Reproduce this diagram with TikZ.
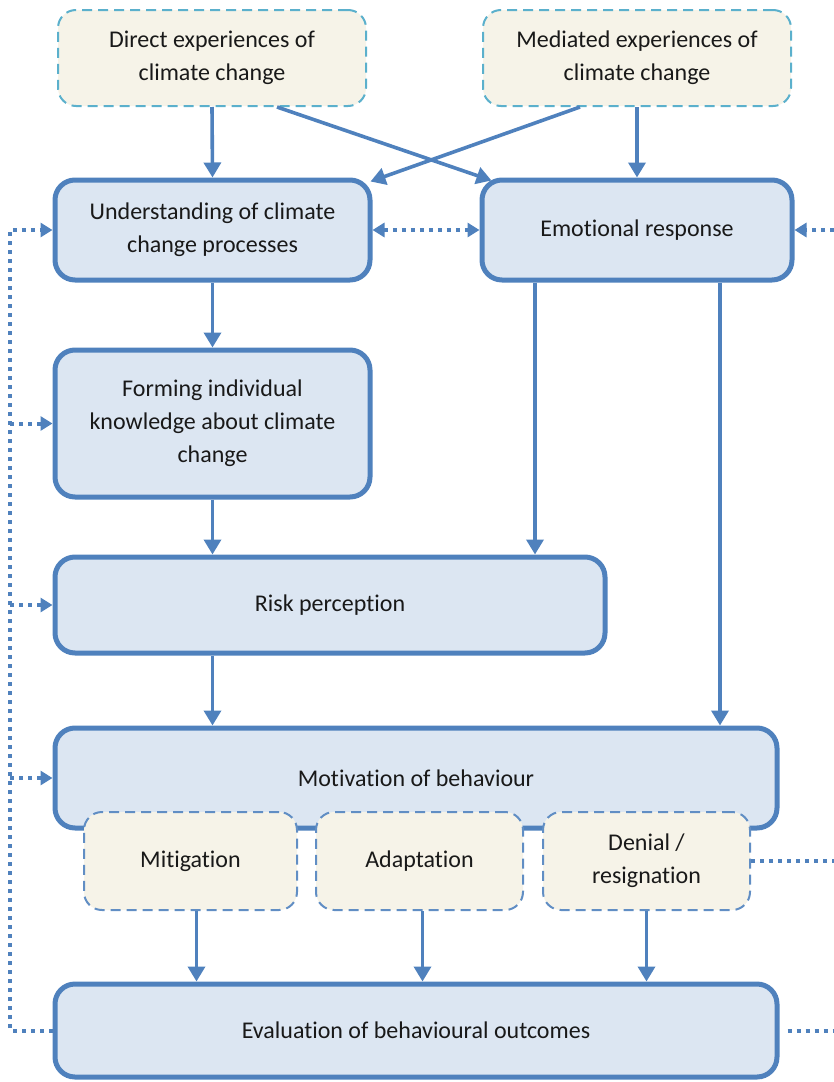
\documentclass[tikz,border=0pt]{standalone}
\usepackage{fontspec}
\setmainfont[RawFeature=-liga]{Carlito}
\usetikzlibrary{arrows.meta,positioning}
\definecolor{boxblue}{RGB}{79,129,189}
\definecolor{boxfill}{RGB}{220,230,242}
\definecolor{notefill}{RGB}{246,243,232}
\definecolor{noteline}{RGB}{91,176,204}
\tikzset{
  mainbox/.style={draw=boxblue, line width=2.5pt, fill=boxfill, rounded corners=10pt,
    align=center, text=black!90, font=\fontsize{12}{16.5}\selectfont},
  topbox/.style={draw=noteline, line width=1pt, dash pattern=on 5pt off 3pt, fill=notefill,
    rounded corners=9pt, align=center, text=black!90, font=\fontsize{12}{16.5}\selectfont},
  subbox/.style={topbox, draw=boxblue!90},
  flow/.style={draw=boxblue, line width=1.8pt, -{Triangle[width=8.5pt,length=7.5pt]}},
  fback/.style={draw=boxblue, line width=2pt, dash pattern=on 2pt off 2.5pt},
  fbtip/.style={fback, -{Triangle[width=7pt,length=6pt]}},
}
\begin{document}
  \begin{tikzpicture}[x=0.5pt,y=-0.5pt]
    \useasboundingbox (0,0) rectangle (834,1082);
    % sources of experience
    \node[topbox, minimum width=154pt, minimum height=48pt] (direct) at (212,58) {Direct experiences of\\climate change};
    \node[topbox, minimum width=154pt, minimum height=48pt] (mediated) at (637,58) {Mediated experiences of\\climate change};
    % main chain
    \node[mainbox, minimum width=157.5pt, minimum height=50pt] (understand) at (212.5,230) {Understanding of climate\\change processes};
    \node[mainbox, minimum width=155pt, minimum height=50pt] (emotional) at (637,230) {Emotional response};
    \node[mainbox, minimum width=157.5pt, minimum height=73.5pt] (forming) at (212.5,423.5) {Forming individual\\knowledge about climate\\change};
    \node[mainbox, minimum width=275pt, minimum height=48pt] (risk) at (330,605) {Risk perception};
    \node[mainbox, minimum width=361pt, minimum height=50pt] (motivation) at (416,778) {Motivation of behaviour};
    % kinds of behaviour
    \node[subbox, minimum width=106.5pt, minimum height=49pt] (mitigation) at (190.5,861) {Mitigation};
    \node[subbox, minimum width=103.5pt, minimum height=49pt] (adaptation) at (419.5,861) {Adaptation};
    \node[subbox, minimum width=103.5pt, minimum height=49pt] (denial) at (646.5,861) {Denial /\\resignation};
    \node[mainbox, minimum width=361pt, minimum height=46.5pt] (evaluation) at (416,1030.5) {Evaluation of behavioural outcomes};
    % solid arrows
    \draw[flow] (direct.south) -- (understand.north);
    \draw[flow] ([xshift=32.5pt]direct.south) -- ([xshift=6pt,yshift=-1.5pt]emotional.north west);
    \draw[flow] ([xshift=-28.5pt]mediated.south) -- ([xshift=-1pt,yshift=-2pt]understand.north east);
    \draw[flow] (mediated.south) -- (emotional.north);
    \draw[flow] (understand.south) -- (forming.north);
    \draw[flow] (forming.south) -- (forming.south |- risk.north);
    \draw[flow] ([xshift=-51pt]emotional.south) -- ([xshift=-51pt]emotional.south |- risk.north);
    \draw[flow] ([xshift=41.5pt]emotional.south) -- ([xshift=41.5pt]emotional.south |- motivation.north);
    \draw[flow] (forming.south |- risk.south) -- (forming.south |- motivation.north);
    \draw[flow] ([xshift=3pt]mitigation.south) -- ([xshift=3pt]mitigation.south |- evaluation.north);
    \draw[flow] ([xshift=1.5pt]adaptation.south) -- ([xshift=1.5pt]adaptation.south |- evaluation.north);
    \draw[flow] (denial.south) -- (denial.south |- evaluation.north);
    % dotted feedback lines
    \coordinate (leftline) at (10,230);
    \coordinate (rightedge) at (834,230);
    \draw[fback, {Triangle[width=7pt,length=6pt]}-{Triangle[width=7pt,length=6pt]}] (understand) -- (emotional);
    \draw[fbtip] (evaluation.west) -| (leftline) -- (understand.west);
    \draw[fbtip] (leftline |- forming.west) -- (forming.west);
    \draw[fbtip] (leftline |- risk.west) -- (risk.west);
    \draw[fbtip] (leftline |- motivation.west) -- (motivation.west);
    \draw[fbtip] (rightedge) -- (emotional.east);
    \draw[fback] (denial.east) -- (denial.east -| rightedge);
    \draw[fback] ([xshift=4pt]evaluation.east) -- (evaluation.east -| rightedge);
  \end{tikzpicture}
\end{document}
